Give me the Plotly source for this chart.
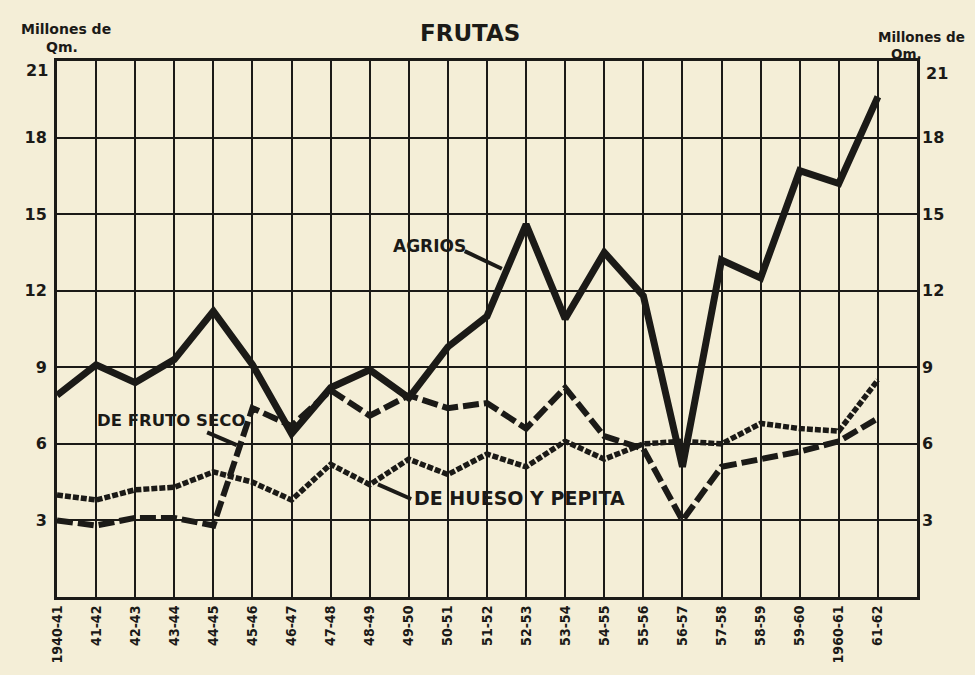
import plotly.graph_objects as go

campaigns = ["1940-41", "41-42", "42-43", "43-44", "44-45", "45-46", "46-47", "47-48",
             "48-49", "49-50", "50-51", "51-52", "52-53", "53-54", "54-55", "55-56",
             "56-57", "57-58", "58-59", "59-60", "1960-61", "61-62"]
agrios = [7.9, 9.1, 8.4, 9.3, 11.2, 9.1, 6.4, 8.2, 8.9, 7.8, 9.8, 11.0,
          14.6, 10.9, 13.5, 11.8, 5.1, 13.2, 12.5, 16.7, 16.2, 19.6]
fruto_seco = [3.0, 2.8, 3.1, 3.1, 2.8, 7.4, 6.7, 8.1, 7.1, 7.9, 7.4, 7.6,
              6.6, 8.2, 6.3, 5.8, 3.0, 5.1, 5.4, 5.7, 6.1, 7.0]
hueso_pepita = [4.0, 3.8, 4.2, 4.3, 4.9, 4.5, 3.8, 5.2, 4.4, 5.4, 4.8, 5.6,
                5.1, 6.1, 5.4, 6.0, 6.1, 6.0, 6.8, 6.6, 6.5, 8.5]
y_ticks = [3, 6, 9, 12, 15, 18]
y_top = 21

x_idx = list(range(len(campaigns)))
INK = "#1b1a17"
PAPER = "#f4eed7"
BOLD = "DejaVu Sans, Arial, sans-serif"
COND = "DejaVu Sans Condensed, Liberation Sans Narrow, DejaVu Sans, sans-serif"

fig = go.Figure()
fig.add_trace(go.Scatter(x=x_idx, y=agrios, mode="lines", name="AGRIOS",
                         line=dict(color=INK, width=7)))
fig.add_trace(go.Scatter(x=x_idx, y=fruto_seco, mode="lines", name="DE FRUTO SECO",
                         line=dict(color=INK, width=6, dash="16px,5px")))
fig.add_trace(go.Scatter(x=x_idx, y=hueso_pepita, mode="lines", name="DE HUESO Y PEPITA",
                         line=dict(color=INK, width=5.5, dash="6px,2px")))
# invisible trace for the right axis
fig.add_trace(go.Scatter(x=[0], y=[0], yaxis="y2", mode="markers",
                         marker=dict(opacity=0), showlegend=False, hoverinfo="skip"))

tick_font = dict(family=BOLD, size=16, color=INK, weight="bold")
fig.update_layout(
    width=975, height=675,
    paper_bgcolor=PAPER, plot_bgcolor=PAPER,
    margin=dict(l=57, r=58, t=61, b=67),
    showlegend=False,
    xaxis=dict(range=[0, 22], tickvals=x_idx, ticktext=campaigns, tickangle=-90,
               showgrid=True, gridcolor=INK, gridwidth=2, zeroline=False,
               showline=True, linecolor=INK, linewidth=3, mirror=True,
               ticks="", tickfont=dict(family=COND, size=14, color=INK, weight="bold")),
    yaxis=dict(range=[0, 21], tickvals=y_ticks + [y_top], ticktext=[str(v) for v in y_ticks] + [""],
               showgrid=True, gridcolor=INK, gridwidth=2,
               zeroline=False, showline=True, linecolor=INK, linewidth=3, mirror=True,
               ticks="", ticklabelstandoff=4, tickfont=tick_font),
    yaxis2=dict(range=[0, 21], tickvals=y_ticks, overlaying="y", side="right",
                showgrid=False, zeroline=False, ticks="", ticklabelstandoff=4,
                tickfont=tick_font),
)

small_font = dict(family=BOLD, size=14, color=INK, weight="bold")


def paper_text(text, px, py, font, xanchor="center"):
    fig.add_annotation(text=text, xref="paper", yref="paper",
                       x=(px - 57) / 860, y=(608 - py) / 547,
                       xanchor=xanchor, yanchor="middle", showarrow=False, font=font)


paper_text("FRUTAS", 470, 32, dict(family=BOLD, size=23, color=INK, weight="bold"))
paper_text("Millones de", 66, 28, small_font)
paper_text("Qm.", 62, 47, small_font)
paper_text("Millones de", 921, 36, dict(family=BOLD, size=13.5, color=INK, weight="bold"))
paper_text("Qm.", 906, 54, dict(family=BOLD, size=13.5, color=INK, weight="bold"))
paper_text(str(y_top), 50, 71, tick_font, xanchor="right")
paper_text(str(y_top), 924, 74, tick_font, xanchor="left")

fig.add_annotation(text="AGRIOS", x=9.54, y=13.74, showarrow=False,
                   font=dict(family=BOLD, size=17, color=INK, weight="bold"))
fig.add_annotation(text="DE FRUTO SECO", x=2.92, y=6.91, showarrow=False,
                   font=dict(family=BOLD, size=16.5, color=INK, weight="bold"))
fig.add_annotation(text="DE HUESO Y PEPITA", x=11.82, y=3.88, showarrow=False,
                   font=dict(family=BOLD, size=19, color=INK, weight="bold"))

leaders = [((10.43, 13.55), (11.38, 12.86)),
           ((3.84, 6.45), (4.60, 5.95)),
           ((8.21, 4.41), (9.06, 3.84))]
for (x0, y0), (x1, y1) in leaders:
    fig.add_shape(type="line", x0=x0, y0=y0, x1=x1, y1=y1, xref="x", yref="y",
                  line=dict(color=INK, width=4))

fig.write_html("out.html", config={"displayModeBar": False},
               post_script="document.body.style.margin='0';"
                           "document.body.style.background='#f4eed7';")
